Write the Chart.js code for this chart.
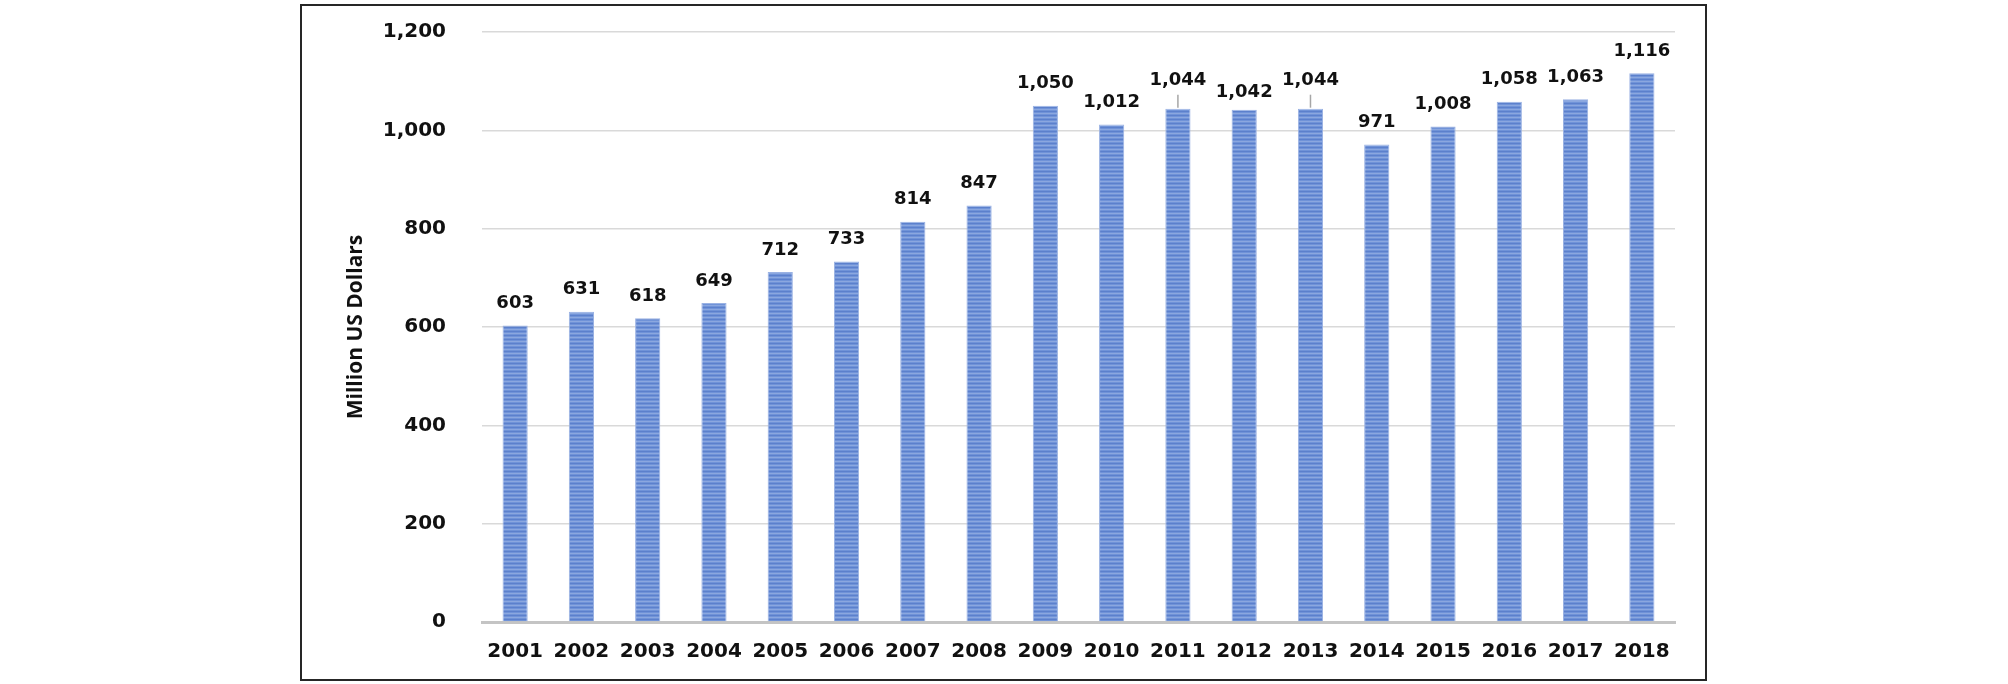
<!DOCTYPE html>
<html>
<head>
<meta charset="utf-8">
<script src="https://cdn.jsdelivr.net/npm/chart.js@4.4.1/dist/chart.umd.min.js"></script>
<style>
  html, body { margin: 0; padding: 0; background: #fff; }
  body { width: 2008px; height: 684px; position: relative; overflow: hidden; }
  #frame {
    position: absolute; left: 300px; top: 4px;
    width: 1403px; height: 673px;
    border: 2px solid #262626; background: #fff;
  }
  #chart { display: block; }
</style>
</head>
<body>
<div id="frame"><canvas id="chart" width="1403" height="673"></canvas></div>
<script>
// Datos
const years = ['2001', '2002', '2003', '2004', '2005', '2006', '2007', '2008', '2009',
               '2010', '2011', '2012', '2013', '2014', '2015', '2016', '2017', '2018'];
const values = [603, 631, 618, 649, 712, 733, 814, 847, 1050,
                1012, 1044, 1042, 1044, 971, 1008, 1058, 1063, 1116];
const yTicks = [0, 200, 400, 600, 800, 1000, 1200];
const yTitle = 'Million US Dollars';

// Patrón de barras con rayas horizontales
function stripePattern(ctx) {
    const c = document.createElement('canvas');
    c.width = 4; c.height = 4;
    const p = c.getContext('2d');
    p.fillStyle = '#7093d8'; p.fillRect(0, 0, 4, 4);
    p.fillStyle = '#5c80cc'; p.fillRect(0, 1, 4, 1);
    p.fillStyle = '#8ba7df'; p.fillRect(0, 3, 4, 1);
    return ctx.createPattern(c, 'repeat');
}

const fmt = v => v.toLocaleString('en-US');

// Etiquetas de datos encima de las barras
const dataLabels = {
    id: 'dataLabels',
    afterDatasetsDraw(chart) {
        const ctx = chart.ctx;
        const meta = chart.getDatasetMeta(0);
        ctx.save();
        ctx.font = 'bold 18px "DejaVu Sans", Verdana, sans-serif';
        ctx.fillStyle = '#111';
        ctx.textAlign = 'center';
        ctx.textBaseline = 'middle';
        meta.data.forEach((bar, i) => {
            let lift = 22;
            if (i === 10 || i === 12) lift = 28;
            if (i === 11) lift = 17;
            if (i === 10 || i === 12) {
                ctx.strokeStyle = '#a6a6a6';
                ctx.lineWidth = 1.5;
                ctx.beginPath();
                ctx.moveTo(bar.x, bar.y - 1);
                ctx.lineTo(bar.x, bar.y - 14);
                ctx.stroke();
            }
            ctx.fillText(fmt(values[i]), bar.x, bar.y - lift);
        });
        ctx.restore();
    }
};

const ctx = document.getElementById('chart').getContext('2d');
const chart = new Chart(ctx, {
    type: 'bar',
    data: {
        labels: years,
        datasets: [{
            data: values,
            backgroundColor: stripePattern(ctx),
            borderColor: '#9ab2e3',
            borderWidth: 1,
            barPercentage: 0.38,
            categoryPercentage: 1
        }]
    },
    options: {
        responsive: false,
        animation: false,
        devicePixelRatio: 1,
        layout: { padding: { left: 0, top: 26, right: 30, bottom: 0 } },
        plugins: {
            legend: { display: false },
            tooltip: { enabled: false }
        },
        scales: {
            x: {
                grid: { display: false },
                border: { display: true, color: '#c4c4c4', width: 3 },
                ticks: {
                    color: '#111',
                    font: { family: '"DejaVu Sans", Verdana, sans-serif', size: 20, weight: 'bold' },
                    padding: 10,
                    maxRotation: 0
                },
                afterFit(scale) { scale.height = 57; }
            },
            y: {
                min: 0,
                max: 1200,
                afterBuildTicks(scale) { scale.ticks = yTicks.map(v => ({ value: v })); },
                grid: { color: '#d9d9d9', lineWidth: 1.5, drawTicks: false },
                border: { display: false },
                ticks: {
                    color: '#111',
                    padding: 36,
                    font: { family: '"DejaVu Sans", Verdana, sans-serif', size: 20, weight: 'bold' },
                    callback: v => fmt(v)
                },
                title: {
                    display: true,
                    text: yTitle,
                    color: '#111',
                    font: { family: '"Open Sans", sans-serif', size: 21, weight: 'bold' },
                    padding: { top: 41, bottom: 0 }
                },
                afterFit(scale) {
                    scale.width = 180;
                    scale.paddingTop = 0;
                    scale.paddingBottom = 0;
                }
            }
        }
    },
    plugins: [dataLabels]
});
</script>
</body>
</html>
